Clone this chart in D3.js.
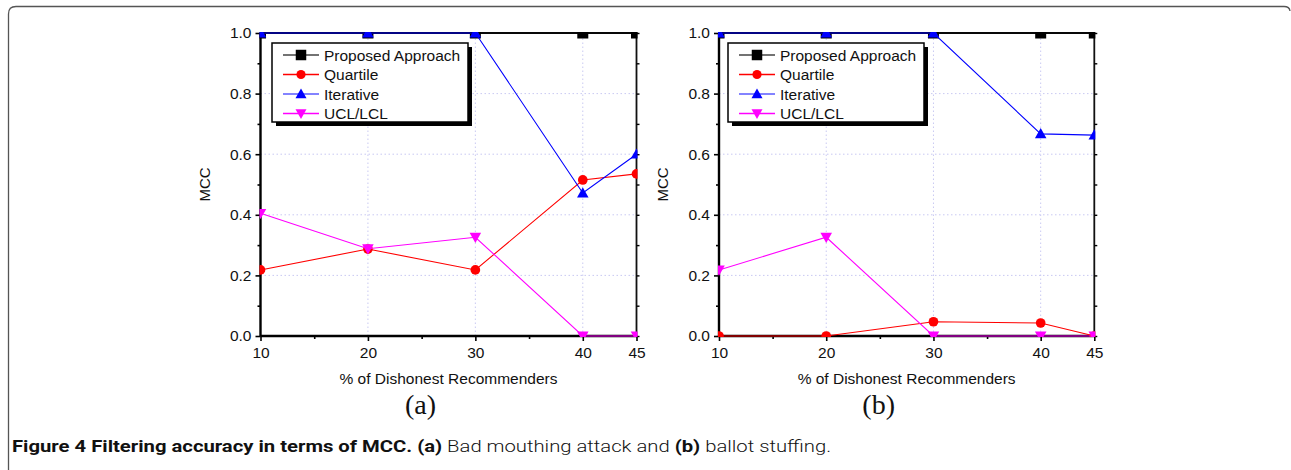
<!DOCTYPE html>
<html>
<head>
<meta charset="utf-8">
<script src="https://cdn.jsdelivr.net/npm/d3@7"></script>
<style>
  html, body { margin: 0; padding: 0; background: #fff; }
  svg { display: block; }
</style>
</head>
<body>
<svg id="chart" width="1291" height="470"></svg>
<script>
// ---- data ----
const xValues = [10, 20, 30, 40, 45];
const xTickValues = [10, 20, 30, 40, 45];
const xMinorTicks = [15, 25, 35];
const yTickValues = [0, 0.2, 0.4, 0.6, 0.8, 1.0];
const yMinorTicks = [0.1, 0.3, 0.5, 0.7, 0.9];
const seriesNames = ["Proposed Approach", "Quartile", "Iterative", "UCL/LCL"];

const proposedA = [1, 1, 1, 1, 1];
const quartileA = [0.218, 0.287, 0.218, 0.515, 0.535];
const iterativeA = [1, 1, 1, 0.472, 0.6];
const uclA = [0.405, 0.288, 0.326, 0, 0];

const proposedB = [1, 1, 1, 1, 1];
const quartileB = [0, 0, 0.047, 0.043, 0];
const iterativeB = [1, 1, 1, 0.667, 0.663];
const uclB = [0.218, 0.326, 0, 0, 0];

const xLabel = "% of Dishonest Recommenders";
const yLabel = "MCC";

// ---- styles ----
const colors = ["#000000", "#ff0000", "#0000ff", "#ff00ff"];
const legendLineColors = ["#444444", "#ff0000", "#5a5aff", "#ff00ff"];
const shapes = ["square", "circle", "up", "down"];
const sansFont = "Liberation Sans, Arial, sans-serif";

const svg = d3.select("#chart");

// frame
svg.append("path")
  .attr("d", "M8.5,470 L8.5,14 Q8.5,6.5 16,6.5 L1284,6.5 Q1289.5,6.5 1290,11")
  .attr("fill", "none").attr("stroke", "#555").attr("stroke-width", 1.3);

function markerPath(shape, size) {
  const s = size / 2;
  if (shape === "square") return `M${-s},${-s}h${size}v${size}h${-size}Z`;
  if (shape === "circle") return d3.symbol(d3.symbolCircle, Math.PI * s * s * 0.85)();
  if (shape === "up") return `M0,${-s * 1.05}L${s * 1.05},${s * 0.8}L${-s * 1.05},${s * 0.8}Z`;
  return `M0,${s * 1.05}L${s * 1.05},${-s * 0.8}L${-s * 1.05},${-s * 0.8}Z`;
}
const markerSizes = [11, 10.5, 11, 11];

function drawPanel(id, x0, x1, series, legendX, panelLabel) {
  const y0 = 336, y1 = 33;
  const x = d3.scaleLinear().domain([10, 45]).range([x0, x1]);
  const y = d3.scaleLinear().domain([0, 1]).range([y0, y1]);
  const g = svg.append("g");

  // grid
  g.selectAll(".gy").data(yTickValues.filter(v => v > 0 && v < 1)).enter()
    .append("line")
    .attr("x1", x0).attr("x2", x1).attr("y1", d => y(d)).attr("y2", d => y(d))
    .attr("stroke", "#c9c9f2").attr("stroke-width", 1).attr("stroke-dasharray", "1.5,2.5");
  g.selectAll(".gx").data(xTickValues.filter(v => v > 10 && v < 45)).enter()
    .append("line")
    .attr("y1", y0).attr("y2", y1).attr("x1", d => x(d)).attr("x2", d => x(d))
    .attr("stroke", "#c9c9f2").attr("stroke-width", 1).attr("stroke-dasharray", "1.5,2.5");

  // axes
  const bottom = g.append("g").attr("transform", `translate(0,${y0})`)
    .call(d3.axisBottom(x).tickValues(xTickValues).tickSize(5).tickFormat(d3.format("d")));
  const bottomMinor = g.append("g").attr("transform", `translate(0,${y0})`)
    .call(d3.axisBottom(x).tickValues(xMinorTicks).tickSize(3).tickFormat(""));
  const left = g.append("g").attr("transform", `translate(${x0},0)`)
    .call(d3.axisLeft(y).tickValues(yTickValues).tickSize(5).tickFormat(d3.format(".1f")));
  const leftMinor = g.append("g").attr("transform", `translate(${x0},0)`)
    .call(d3.axisLeft(y).tickValues(yMinorTicks).tickSize(3).tickFormat(""));
  const right = g.append("g").attr("transform", `translate(${x1},0)`)
    .call(d3.axisRight(y).tickValues(yTickValues.concat(yMinorTicks)).tickSize(3).tickFormat(""));
  const top = g.append("g").attr("transform", `translate(0,${y1})`)
    .call(d3.axisTop(x).tickValues([]).tickSize(0).tickFormat(""));

  [bottom, bottomMinor, left, leftMinor].forEach(a => {
    a.select(".domain").attr("stroke", "#000").attr("stroke-width", 2.4);
    a.selectAll(".tick line").attr("stroke", "#000").attr("stroke-width", 1.6);
  });
  [right, top].forEach(a => {
    a.select(".domain").attr("stroke", "#111").attr("stroke-width", 1.8);
    a.selectAll(".tick line").attr("stroke", "#000").attr("stroke-width", 1.4);
  });
  bottomMinor.select(".domain").remove();
  leftMinor.select(".domain").remove();
  bottom.select(".domain").attr("d", `M${x0},0H${x1}`);
  left.select(".domain").attr("d", `M0,${y0}V${y1}`);
  right.select(".domain").attr("d", `M0,${y0 + 1}V${y1 - 1}`);
  top.select(".domain").attr("d", `M${x0},0H${x1}`);

  bottom.selectAll("text").attr("font-family", sansFont)
    .attr("font-size", 15.5).attr("fill", "#111").attr("dy", "0.95em").attr("y", 7);
  left.selectAll("text").attr("font-family", sansFont)
    .attr("font-size", 15.5).attr("fill", "#111").attr("x", -9);

  // labels
  g.append("text").attr("x", (x0 + x1) / 2).attr("y", 384).attr("text-anchor", "middle")
    .attr("font-family", sansFont).attr("font-size", 15.5)
    .attr("fill", "#111").text(xLabel);
  g.append("text").attr("transform", `translate(${x0 - 51},${(y0 + y1) / 2}) rotate(-90)`)
    .attr("text-anchor", "middle")
    .attr("font-family", sansFont).attr("font-size", 15)
    .attr("fill", "#111").text(yLabel);
  g.append("text").attr("x", (x0 + x1) / 2 - 28).attr("y", 414).attr("text-anchor", "middle")
    .attr("font-family", "Liberation Serif, Times New Roman, serif").attr("font-size", 28)
    .attr("fill", "#111").text(panelLabel);

  // clip
  const clipId = "clip-" + id;
  svg.append("clipPath").attr("id", clipId).append("rect")
    .attr("x", x0 - 1).attr("y", y1 - 1).attr("width", x1 - x0 + 2).attr("height", y0 - y1 + 2);
  const plot = g.append("g").attr("clip-path", `url(#${clipId})`);

  const line = d3.line().x((d, i) => x(xValues[i])).y(d => y(d));
  series.forEach((vals, si) => {
    plot.append("path").datum(vals).attr("d", line)
      .attr("fill", "none").attr("stroke", colors[si]).attr("stroke-width", 1.1);
    plot.selectAll(".m" + si).data(vals).enter().append("path")
      .attr("transform", (d, i) => `translate(${x(xValues[i])},${y(d)})`)
      .attr("d", markerPath(shapes[si], markerSizes[si]))
      .attr("fill", colors[si]);
  });

  // legend
  const ly = 43, lw = 196, lh = 79;
  const lg = g.append("g");
  lg.append("rect").attr("x", legendX + 4).attr("y", ly + 4).attr("width", lw).attr("height", lh).attr("fill", "#000");
  lg.append("rect").attr("x", legendX).attr("y", ly).attr("width", lw).attr("height", lh)
    .attr("fill", "#fff").attr("stroke", "#000").attr("stroke-width", 1.5);
  const rowY = [12, 31.5, 51, 70.5];
  seriesNames.forEach((name, si) => {
    const cy = ly + rowY[si];
    lg.append("line").attr("x1", legendX + 11).attr("x2", legendX + 47).attr("y1", cy).attr("y2", cy)
      .attr("stroke", legendLineColors[si]).attr("stroke-width", 1.4);
    lg.append("path").attr("transform", `translate(${legendX + 29},${cy})`)
      .attr("d", markerPath(shapes[si], markerSizes[si] - 0.5)).attr("fill", colors[si]);
    lg.append("text").attr("x", legendX + 52).attr("y", cy).attr("dy", "0.36em")
      .attr("font-family", sansFont).attr("font-size", 15.5)
      .attr("fill", "#111").text(name);
  });
}

drawPanel("a", 260.5, 636.5, [proposedA, quartileA, iterativeA, uclA], 272, "(a)");
drawPanel("b", 719, 1094.3, [proposedB, quartileB, iterativeB, uclB], 728, "(b)");

// caption
const cap = svg.append("text").attr("x", 12).attr("y", 452)
  .attr("font-family", "Roboto, Noto Sans, sans-serif").attr("font-size", 16).attr("fill", "#111")
  .attr("textLength", 819).attr("lengthAdjust", "spacingAndGlyphs");
const parts = [
  ["Figure 4 Filtering accuracy in terms of MCC. ", true],
  ["(a)", true], [" Bad mouthing attack and ", false],
  ["(b)", true], [" ballot stuffing.", false]
];
parts.forEach(([t, b]) => cap.append("tspan").attr("font-weight", b ? "bold" : "300").text(t));
</script>
</body>
</html>
